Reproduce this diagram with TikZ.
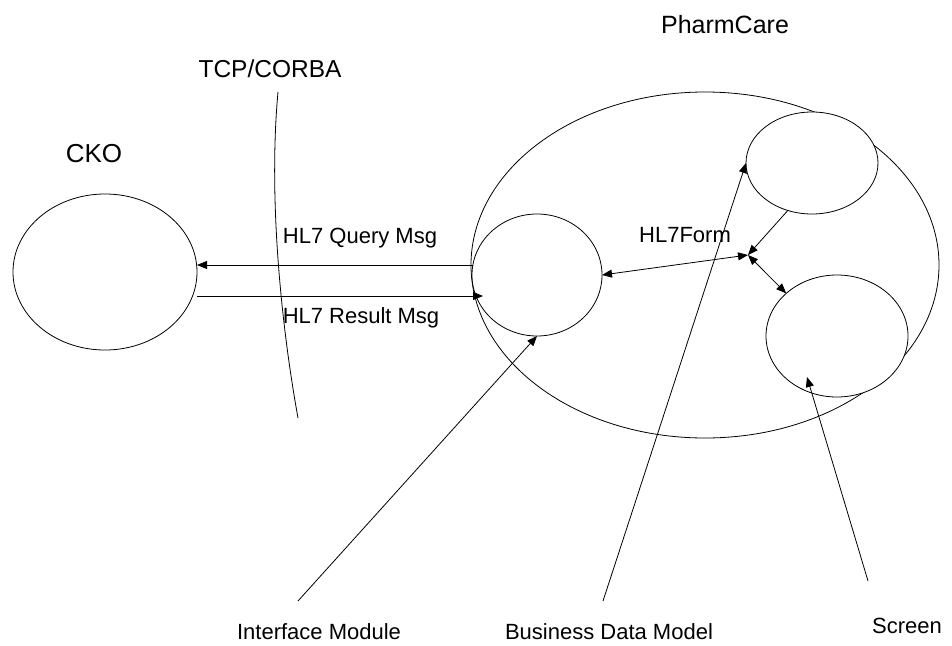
\documentclass[tikz,border=0pt]{standalone}
\usepackage{fontspec}
\setmainfont{Liberation Sans}
\usetikzlibrary{arrows.meta,shapes.geometric}
\begin{document}
\begin{tikzpicture}[x=1pt,y=-1pt,
  ell/.style={draw,ellipse,line width=0.8pt,inner sep=0pt,outer sep=0pt},
  inner/.style={ell,fill=white},
  conn/.style={line width=0.8pt},
  arr/.style={conn,-{Triangle[length=10pt,width=8pt]}},
  arrtwo/.style={conn,{Triangle[length=10pt,width=8pt]}-{Triangle[length=10pt,width=8pt]}},
  title/.style={inner sep=0pt,anchor=base,font=\fontsize{25}{30}\selectfont},
  lbl/.style={inner sep=0pt,anchor=base,font=\fontsize{22}{26}\selectfont}]
\useasboundingbox (0,0) rectangle (952,645);
% shapes
\node[ell,minimum width=184pt,minimum height=156pt] (cko) at (105,272) {};
\node[ell,minimum width=468pt,minimum height=346pt] (pharm) at (705,265) {};
\node[inner,minimum width=130pt,minimum height=122pt] (iface) at (537,275) {};
\node[inner,minimum width=132pt,minimum height=102pt] (bdm) at (812,163) {};
\node[inner,minimum width=142pt,minimum height=122pt] (scr) at (837,336) {};
% titles
\node[title] (tpharm) at (725,33) {PharmCare};
\node[title,font=\fontsize{24.5}{29}\selectfont] (ttcp) at (270,77) {TCP/CORBA};
\node[title,font=\fontsize{26}{30}\selectfont] (tcko) at (94,162) {CKO};
% boundary curve
\coordinate (ctop) at (278,92);
\coordinate (cbot) at (298,418);
\draw[conn] (ctop) .. controls (268,200) and (282,330) .. (cbot);
% messages
\coordinate (q1) at (473,265);
\coordinate (r1) at (483,296);
\draw[arr] (q1) -- (cko.east |- q1);
\draw[arr] (cko.east |- r1) -- (r1);
\node[lbl] (lq) at (360,243) {HL7 Query Msg};
\node[lbl] (lr) at (361,323) {HL7 Result Msg};
% inner connectors
\coordinate (hub) at (748,255);
\draw[arrtwo] (iface.east) -- (hub);
\draw[arr] (bdm.243) -- (hub);
\draw[arrtwo] (hub) -- (scr.140);
\node[lbl] (lform) at (685,242) {HL7Form};
% callouts
\coordinate (im) at (298,601);
\coordinate (bm) at (603,601);
\coordinate (sm) at (868,581);
\coordinate (stip) at (807,377);
\draw[arr] (im) -- (iface.south);
\draw[arr] (bm) -- (bdm.west);
\draw[arr] (sm) -- (stip);
\node[lbl] (lim) at (319,639) {Interface Module};
\node[lbl] (lbm) at (609,639) {Business Data Model};
\node[lbl] (lsm) at (907,633) {Screen};
\end{tikzpicture}
\end{document}
